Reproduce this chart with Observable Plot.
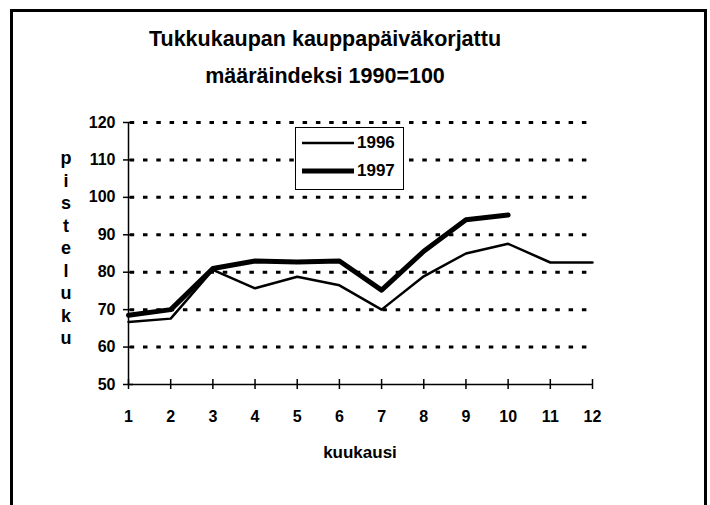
<!DOCTYPE html>
<html>
<head>
<meta charset="utf-8">
<script src="https://cdn.jsdelivr.net/npm/d3@7"></script>
<script src="https://cdn.jsdelivr.net/npm/@observablehq/plot@0.6"></script>
<style>
  html, body { margin: 0; padding: 0; background: #fff; overflow: hidden; }
  body { width: 710px; height: 505px; position: relative; font-family: "Liberation Sans", Arial, sans-serif; color: #000; }
  #title { width: 650px; height: 100px; box-sizing: border-box; padding-top: 21px; text-align: center; font-weight: bold; font-size: 21.5px; line-height: 37px; }
  #chart svg { display: block; }
  #xlabel { width: 720px; text-align: center; font-size: 17px; font-weight: bold; line-height: 36px; }
  #frame { position: absolute; left: 10px; top: 9px; width: 697px; height: 520px; box-sizing: border-box; border: 3px solid #000; pointer-events: none; }
  #ylabel { position: absolute; left: 55px; top: 147px; width: 22px; text-align: center; font-size: 18px; font-weight: bold; line-height: 22.5px; }
  #legend { position: absolute; left: 295px; top: 127px; width: 109px; height: 63px; box-sizing: border-box; border: 1.5px solid #000; background: #fff; }
  #legend .row { position: absolute; left: 0; height: 20px; display: flex; align-items: center; }
  #legend .row span { font-size: 17px; font-weight: bold; margin-left: 3px; }
</style>
</head>
<body>
<div id="title">Tukkukaupan kauppapäiväkorjattu<br>määräindeksi 1990=100</div>
<div id="chart"></div>
<div id="xlabel">kuukausi</div>
<div id="ylabel"></div>
<div id="legend"></div>
<div id="frame"></div>
<script>
const titleText = ["Tukkukaupan kauppapäiväkorjattu", "määräindeksi 1990=100"];
const xLabel = "kuukausi";
const yLabel = "pisteluku";
const seriesNames = ["1996", "1997"];
const months = [1, 2, 3, 4, 5, 6, 7, 8, 9, 10, 11, 12];
const yTicks = [50, 60, 70, 80, 90, 100, 110, 120];
const gridValues = [60, 70, 80, 90, 100, 110, 120];
const v1996 = [66.7, 67.6, 80.6, 75.7, 78.8, 76.5, 70.0, 78.9, 85.0, 87.6, 82.6, 82.6];
const v1997 = [68.5, 70.0, 81.0, 83.0, 82.7, 83.0, 75.2, 85.6, 94.0, 95.3];

const d1996 = v1996.map((v, i) => ({month: months[i], value: v}));
const d1997 = v1997.map((v, i) => ({month: months[i], value: v}));

const chart = Plot.plot({
  width: 710,
  height: 335,
  marginLeft: 128,
  marginRight: 118,
  marginTop: 22,
  marginBottom: 51,
  x: {domain: [1, 12]},
  y: {domain: [50, 120]},
  style: {fontFamily: '"Liberation Sans", Arial, sans-serif', fontSize: "16px", fontWeight: "bold", color: "#000", background: "#fff", overflow: "visible"},
  marks: [
    Plot.ruleY(gridValues, {stroke: "#000", strokeWidth: 3, strokeDasharray: "4.5 8.8", strokeDashoffset: -1.7}),
    Plot.ruleX([1], {y1: 50, y2: 120, stroke: "#000", strokeWidth: 1.5}),
    Plot.ruleY([50], {x1: 1, x2: 12, stroke: "#000", strokeWidth: 1.5}),
    Plot.ruleY(yTicks, {x1: 1, x2: 1, insetLeft: -5, insetRight: -5, stroke: "#000", strokeWidth: 1.5}),
    Plot.ruleX(months, {y1: 50, y2: 50, insetTop: -5, insetBottom: -5, stroke: "#000", strokeWidth: 1.5}),
    Plot.line(d1996, {x: "month", y: "value", stroke: "#000", strokeWidth: 2.5}),
    Plot.line(d1997, {x: "month", y: "value", stroke: "#000", strokeWidth: 5}),
    Plot.axisX(months, {tickSize: 0, tickPadding: 26, label: null, fontWeight: "bold"}),
    Plot.axisY(yTicks, {tickSize: 0, tickPadding: 13, label: null, fontWeight: "bold"})
  ]
});
document.getElementById("chart").appendChild(chart);

document.getElementById("ylabel").innerHTML = yLabel.split("").join("<br>");

const legend = document.getElementById("legend");
const widths = [2.5, 5];
const tops = [5, 33];
seriesNames.forEach((name, i) => {
  const row = document.createElement("div");
  row.className = "row";
  row.style.top = tops[i] + "px";
  row.innerHTML = `<svg width="58" height="20"><line x1="6" x2="58" y1="10" y2="10" stroke="#000" stroke-width="${widths[i]}"/></svg><span>${name}</span>`;
  legend.appendChild(row);
});
</script>
</body>
</html>
